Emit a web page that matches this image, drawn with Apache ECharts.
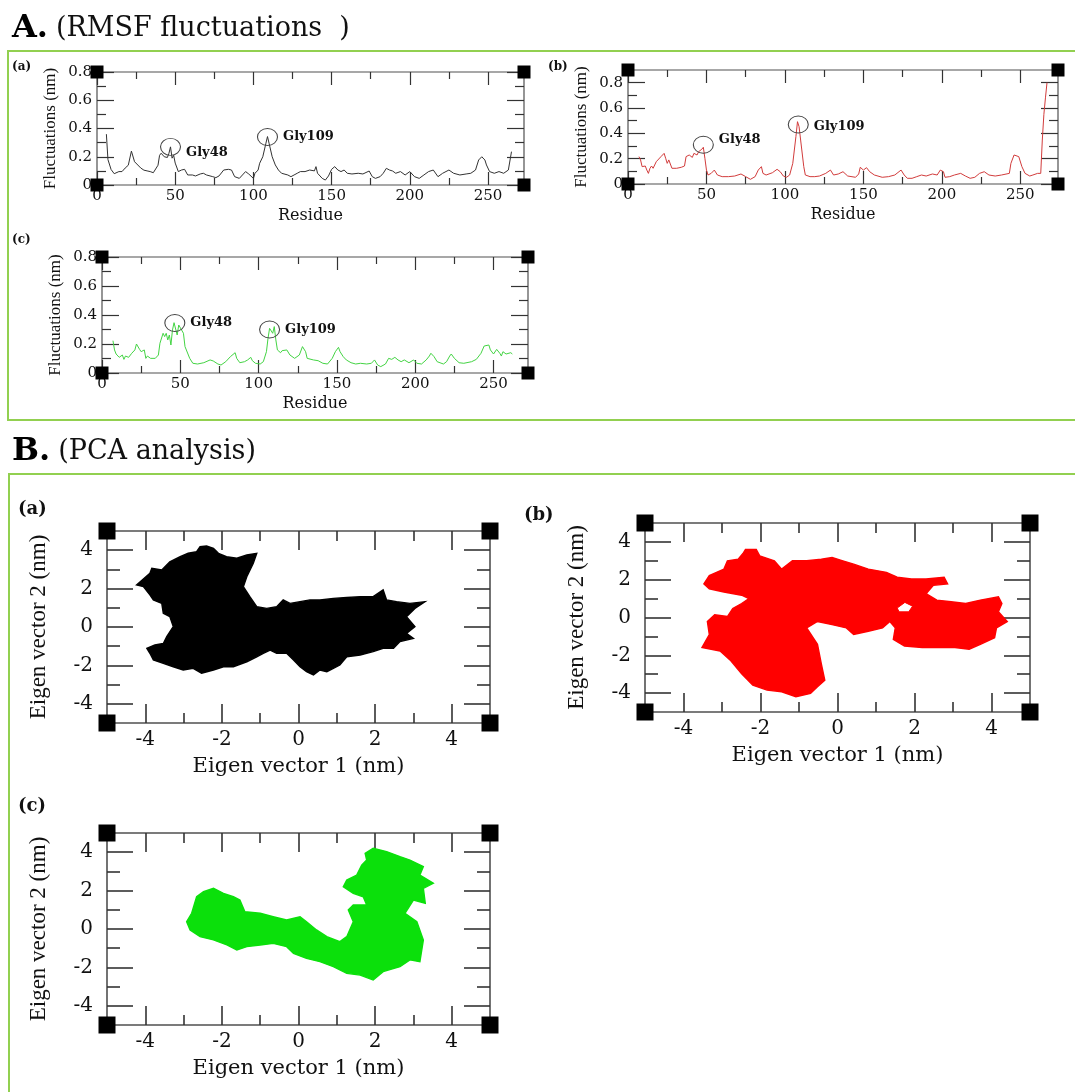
<!DOCTYPE html>
<html><head><meta charset="utf-8">
<script src="https://cdn.jsdelivr.net/npm/echarts@6/dist/echarts.min.js"></script>
<style>html,body{margin:0;padding:0;background:#fff}#c{width:1075px;height:1092px}</style>
</head><body><div id="c"></div>
<script>
// ---------------- DATA ----------------
// RMSF (a) black
const resA = [6,7,9,11,14,16,18,20,22,24,25,28,30,32,34,36,37,39,40,41,43,45,46,47,48,49,50,52,53,54,55,56,58,61,63,66,68,70,74,76,78,81,82,84,86,88,91,93,95,97,98,100,101,103,104,106,108,109,110,112,114,116,118,122,124,126,128,130,133,136,139,140,141,144,146,148,150,152,154,156,158,160,163,167,170,174,176,178,181,183,185,187,189,191,194,197,200,203,206,209,212,215,218,221,225,228,232,236,239,242,244,246,248,249,251,254,257,260,263,265];
const fluctA = [0.36,0.18,0.11,0.08,0.095,0.095,0.12,0.14,0.24,0.165,0.17,0.12,0.105,0.10,0.095,0.087,0.10,0.14,0.21,0.225,0.20,0.195,0.225,0.27,0.19,0.21,0.155,0.095,0.083,0.106,0.095,0.111,0.071,0.071,0.064,0.078,0.083,0.071,0.059,0.052,0.064,0.106,0.095,0.111,0.106,0.059,0.047,0.071,0.095,0.078,0.064,0.047,0.083,0.106,0.154,0.20,0.296,0.343,0.296,0.20,0.142,0.106,0.083,0.071,0.059,0.071,0.083,0.095,0.095,0.106,0.10,0.13,0.083,0.047,0.035,0.064,0.111,0.13,0.106,0.095,0.106,0.083,0.078,0.083,0.078,0.099,0.059,0.047,0.059,0.083,0.118,0.106,0.099,0.083,0.095,0.071,0.095,0.059,0.047,0.071,0.095,0.106,0.059,0.083,0.106,0.083,0.071,0.078,0.083,0.106,0.177,0.20,0.177,0.142,0.095,0.083,0.095,0.083,0.106,0.236];
// RMSF (b) red
const resB = [7,8,9,10,11,12,13,14,15,16,18,19,21,23,24,25,26,28,29,31,32,34,36,37,38,39,41,42,44,45,47,48,49,50,51,53,55,57,60,64,68,72,75,78,81,83,84,85,86,88,92,95,97,99,101,103,105,107,108,109,110,112,113,116,119,122,126,129,131,134,137,140,145,147,148,150,152,154,157,162,166,170,174,176,178,181,184,187,190,194,197,199,201,202,205,208,212,215,218,221,224,227,230,234,238,243,244,246,247,249,251,253,256,258,261,263,264,265,266,267];
const fluctB = [0.216,0.19,0.137,0.124,0.142,0.11,0.084,0.124,0.142,0.124,0.176,0.19,0.216,0.242,0.203,0.163,0.19,0.124,0.11,0.124,0.11,0.132,0.142,0.216,0.203,0.229,0.21,0.242,0.229,0.255,0.274,0.29,0.203,0.11,0.071,0.084,0.11,0.071,0.058,0.058,0.063,0.079,0.058,0.037,0.058,0.11,0.097,0.137,0.084,0.071,0.089,0.116,0.097,0.063,0.053,0.071,0.163,0.374,0.492,0.453,0.347,0.137,0.071,0.058,0.058,0.063,0.084,0.11,0.071,0.079,0.097,0.063,0.053,0.079,0.132,0.11,0.129,0.097,0.071,0.053,0.058,0.071,0.11,0.071,0.045,0.045,0.058,0.071,0.063,0.079,0.071,0.11,0.097,0.053,0.058,0.071,0.084,0.063,0.045,0.053,0.084,0.097,0.071,0.063,0.071,0.084,0.163,0.229,0.242,0.216,0.137,0.084,0.063,0.071,0.084,0.084,0.347,0.55,0.68,0.80];
// RMSF (c) green
const resC = [7,8,9,10,11,13,14,15,17,19,21,22,24,25,27,28,29,31,32,34,36,37,39,40,41,42,43,44,45,46,47,48,49,50,52,53,54,56,58,61,65,69,71,74,76,79,82,85,86,88,91,93,95,96,98,101,103,105,106,107,108,109,110,111,112,114,115,118,120,123,126,128,129,130,131,135,138,141,144,147,149,151,152,154,156,159,162,165,169,172,174,176,178,181,183,185,187,189,191,193,196,199,201,204,207,209,210,212,214,218,220,222,223,225,228,231,236,239,242,244,245,247,248,250,252,253,254,255,256,258,259,261,262];
const fluctC = [0.223,0.159,0.131,0.14,0.108,0.124,0.094,0.117,0.108,0.136,0.159,0.20,0.163,0.147,0.159,0.101,0.117,0.101,0.113,0.101,0.124,0.205,0.274,0.251,0.274,0.228,0.262,0.193,0.297,0.347,0.343,0.262,0.331,0.338,0.274,0.182,0.17,0.101,0.067,0.062,0.071,0.09,0.083,0.062,0.055,0.078,0.113,0.14,0.101,0.071,0.078,0.09,0.108,0.085,0.067,0.062,0.078,0.147,0.239,0.308,0.32,0.274,0.32,0.228,0.159,0.14,0.154,0.159,0.124,0.101,0.124,0.182,0.193,0.147,0.101,0.09,0.085,0.067,0.062,0.101,0.147,0.177,0.147,0.113,0.09,0.071,0.062,0.067,0.062,0.067,0.09,0.055,0.044,0.062,0.101,0.094,0.108,0.09,0.078,0.09,0.071,0.09,0.067,0.062,0.09,0.117,0.136,0.113,0.078,0.062,0.078,0.117,0.131,0.101,0.071,0.067,0.078,0.094,0.136,0.186,0.182,0.193,0.159,0.131,0.163,0.17,0.136,0.117,0.147,0.131,0.136,0.14,0.131];

// annotated residues
const glyNames = ['Gly48','Gly109'];
const glyResA = [47,109],   glyValA = [0.27,0.34];
const glyResB = [48,108.5], glyValB = [0.31,0.47];
const glyResC = [46.5,107], glyValC = [0.345,0.30];

// tick labels
const rmsfXTicks = [0,50,100,150,200,250];
const rmsfXMinor = [25,75,125,175,225];
const rmsfYTicks = [0,0.2,0.4,0.6,0.8];
const rmsfYMinor = [0.1,0.3,0.5,0.7];
const pcaTicks = [-4,-2,0,2,4];
const pcaMinor = [-3,-1,1,3];

// PCA projection cloud outlines (eigenvector 1, eigenvector 2)
const pcaAx = [-4.23,-3.88,-3.83,-3.57,-3.36,-3.09,-2.88,-2.66,-2.57,-2.40,-2.22,-2.09,-1.88,-1.61,-1.35,-1.09,-1.18,-1.35,-1.44,-1.27,-1.09,-0.83,-0.57,-0.40,-0.22,0.04,0.30,0.56,0.91,1.26,1.61,1.95,2.21,2.30,2.56,2.91,3.30,3.04,2.82,3.04,2.82,3.00,2.65,2.48,2.21,1.95,1.61,1.26,1.08,0.91,0.74,0.56,0.39,0.21,0.04,-0.13,-0.31,-0.57,-0.74,-0.92,-1.09,-1.35,-1.70,-1.96,-2.22,-2.53,-2.75,-3.01,-3.27,-3.53,-3.79,-3.88,-3.96,-3.75,-3.53,-3.44,-3.27,-3.36,-3.53,-3.57,-3.79,-3.88,-4.05];
const pcaAy = [2.19,2.80,3.06,2.97,3.40,3.66,3.84,3.92,4.18,4.22,4.10,3.84,3.66,3.58,3.75,3.84,3.32,2.62,2.10,1.58,1.06,0.97,1.06,1.41,1.23,1.32,1.41,1.41,1.49,1.54,1.58,1.58,1.93,1.41,1.32,1.23,1.32,0.97,0.54,0.02,-0.33,-0.59,-0.76,-1.11,-1.11,-1.28,-1.46,-1.55,-1.98,-2.15,-2.33,-2.24,-2.50,-2.33,-2.07,-1.72,-1.37,-1.37,-1.20,-1.37,-1.55,-1.81,-2.07,-2.07,-2.24,-2.41,-2.15,-2.24,-2.07,-1.89,-1.72,-1.37,-1.11,-0.94,-0.86,-0.50,0.02,0.54,0.71,1.23,1.41,1.67,2.10];
const pcaBx = [-3.47,-3.33,-2.95,-2.86,-2.58,-2.44,-2.39,-2.11,-2.02,-1.64,-1.45,-1.17,-0.80,-0.42,-0.14,0.14,0.42,0.80,1.27,1.55,1.92,2.30,2.77,2.86,2.49,2.30,2.58,2.95,3.33,3.71,4.18,4.27,4.18,4.41,4.13,4.08,3.71,3.42,3.05,2.67,2.20,1.74,1.45,1.50,1.36,1.17,0.80,0.42,0.23,-0.14,-0.52,-0.80,-0.52,-0.42,-0.33,-0.52,-0.70,-1.08,-1.45,-1.83,-2.20,-2.49,-2.77,-3.05,-3.52,-3.33,-3.38,-3.19,-2.86,-2.72,-2.49,-2.30,-2.49,-2.95,-3.33];
const pcaBy = [1.78,2.22,2.56,3.00,3.08,3.43,3.60,3.60,3.26,3.00,2.56,3.00,3.00,3.08,3.17,3.00,2.82,2.56,2.39,2.13,2.04,2.04,2.13,1.78,1.70,1.26,0.92,0.83,0.74,0.92,1.09,0.74,0.31,-0.21,-0.55,-1.07,-1.42,-1.68,-1.59,-1.59,-1.59,-1.51,-1.16,-0.55,-0.21,-0.55,-0.73,-0.90,-0.55,-0.38,-0.21,-0.55,-1.42,-2.46,-3.32,-3.66,-4.02,-4.19,-3.93,-3.84,-3.58,-2.98,-2.29,-1.77,-1.59,-0.90,-0.21,0.14,0.05,0.48,0.74,1.00,1.18,1.35,1.52];
const pcaBholeX = [1.55,1.75,1.95,1.85,1.60];
const pcaBholeY = [0.50,0.80,0.60,0.30,0.30];
const pcaCx = [-2.92,-2.79,-2.66,-2.48,-2.22,-1.96,-1.70,-1.53,-1.40,-1.00,-0.66,-0.31,0.04,0.21,0.47,0.74,1.08,1.26,1.43,1.30,1.43,1.78,1.69,1.43,1.17,1.26,1.52,1.65,1.78,1.74,1.95,2.30,2.65,2.91,3.26,3.17,3.52,3.26,3.31,3.00,2.78,3.09,3.26,3.17,2.91,2.65,2.21,1.95,1.61,1.26,0.91,0.56,0.21,-0.13,-0.31,-0.66,-1.00,-1.35,-1.61,-1.87,-2.22,-2.57,-2.83];
const pcaCy = [0.38,0.82,1.68,1.94,2.12,1.86,1.68,1.51,0.90,0.82,0.64,0.47,0.64,0.38,-0.05,-0.40,-0.66,-0.40,0.38,0.99,1.25,1.25,1.68,1.86,2.20,2.55,2.81,3.33,3.59,3.94,4.20,4.03,3.77,3.59,3.25,2.81,2.38,2.12,1.34,1.51,0.82,0.38,-0.57,-1.70,-1.61,-1.96,-2.22,-2.66,-2.40,-2.31,-1.96,-1.70,-1.53,-1.27,-0.92,-0.75,-0.83,-0.92,-1.09,-0.83,-0.57,-0.40,-0.05];

// ---------------- BUILD ----------------
const F_SERIF = "'DejaVu Serif', serif";
const F_TIMES = "'Liberation Serif', 'Times New Roman', serif";
const grids = [], xAxes = [], yAxes = [], series = [];

function addPanel(p) {
  const gi = grids.length;
  grids.push({left:p.left, top:p.top, width:p.width, height:p.height, show:true,
    borderColor:'#505050', borderWidth:p.frameW, backgroundColor:'rgba(0,0,0,0)', containLabel:false});
  const base = gi * 4;
  const tickStyle = {color:'#333', width:p.tickW};
  function mk(kind, pos, vals, len, withLabel) {
    const isX = kind === 'x';
    const ax = {gridIndex:gi, type:'value', position:pos,
      min: isX ? p.xMin : p.yMin, max: isX ? p.xMax : p.yMax,
      axisLine:{show:false, onZero:false}, splitLine:{show:false}, minorTick:{show:false},
      axisTick:{show:true, inside:true, length:len, customValues:vals, lineStyle:tickStyle},
      axisLabel: withLabel ? {show:true, customValues:vals, margin: isX ? p.xMargin : p.yMargin,
        fontFamily:F_SERIF, fontSize:p.tickFont, color:'#111'} : {show:false},
      axisPointer:{show:false}, silent:true};
    if (withLabel) {
      ax.name = isX ? p.xName : p.yName;
      ax.nameLocation = 'middle';
      ax.nameGap = isX ? p.xNameGap : p.yNameGap;
      ax.nameTextStyle = isX ? {fontFamily:F_SERIF, fontSize:p.xNameFont, color:'#111'}
                             : {fontFamily:F_TIMES, fontSize:p.yNameFont, color:'#111'};
    }
    return ax;
  }
  xAxes.push(mk('x','bottom',p.xMajor,p.xLen[0],true), mk('x','bottom',p.xMinorV,p.xLen[1],false),
             mk('x','top',p.xMajor,p.xLen[0],false),   mk('x','top',p.xMinorV,p.xLen[1],false));
  yAxes.push(mk('y','left',p.yMajor,p.yLen[0],true),   mk('y','left',p.yMinorV,p.yLen[1],false),
             mk('y','right',p.yMajor,p.yLen[0],false), mk('y','right',p.yMinorV,p.yLen[1],false));
  // xmgrace-style black corner squares
  series.push({type:'scatter', xAxisIndex:base, yAxisIndex:base, clip:false, silent:true, z:1,
    symbol:'rect', symbolSize:p.sq, itemStyle:{color:'#000', opacity:1},
    data:[[p.xMin,p.yMin],[p.xMax,p.yMin],[p.xMin,p.yMax],[p.xMax,p.yMax]]});
  return base;
}

function rmsfPanel(geo, xMax, yMax, res, vals, color, gRes, gVal, gOff) {
  const base = addPanel(Object.assign({
    xMin:0, xMax:xMax, yMin:0, yMax:yMax,
    xMajor:rmsfXTicks, xMinorV:rmsfXMinor, yMajor:rmsfYTicks, yMinorV:rmsfYMinor,
    xLen:[13,7], yLen:[17,9], frameW:1.2, tickW:1.2, sq:13, tickFont:15,
    xMargin:4, yMargin:5, xName:'Residue', yName:'Fluctuations (nm)',
    xNameGap:23, yNameGap:38, xNameFont:16, yNameFont:17}, geo));
  series.push({type:'line', xAxisIndex:base, yAxisIndex:base, showSymbol:false, symbol:'none',
    silent:true, lineStyle:{color:color, width:1}, z:2,
    data: res.map((r,i)=>[r, vals[i]])});
  series.push({type:'scatter', xAxisIndex:base, yAxisIndex:base, silent:true, z:3, clip:false,
    symbol:'circle', symbolSize:[20,17],
    itemStyle:{color:'rgba(0,0,0,0)', borderColor:'#444', borderWidth:1, opacity:1},
    label:{show:true, position:'right', distance:5, formatter:'{b}', fontFamily:F_SERIF,
      fontWeight:'bold', fontSize:13, color:'#111'},
    data: glyNames.map((n,i)=>({name:n, value:[gRes[i], gVal[i]], label:{offset:gOff[i]}}))});
}

function pcaPanel(geo, xs, ys, color, holeX, holeY) {
  const base = addPanel(Object.assign({
    xMin:-5, xMax:5, yMin:-5, yMax:5,
    xMajor:pcaTicks, xMinorV:pcaMinor, yMajor:pcaTicks, yMinorV:pcaMinor,
    xLen:[19,10], yLen:[26,13], frameW:1.6, tickW:1.6, sq:17, tickFont:20,
    xMargin:7, yMargin:14, xName:'Eigen vector 1 (nm)', yName:'Eigen vector 2 (nm)',
    xNameGap:33, yNameGap:57, xNameFont:21, yNameFont:23}, geo));
  const pts = xs.map((x,i)=>[x, ys[i]]);
  series.push({type:'custom', xAxisIndex:base, yAxisIndex:base, silent:true, z:2, clip:true,
    data: pts,
    renderItem: function(params, api) {
      if (params.dataIndex !== 0) return null;
      const children = [{type:'polygon', shape:{points: pts.map(p=>api.coord(p))},
        style:{fill:color, stroke:color, lineWidth:1.4, lineJoin:'miter'}}];
      if (holeX) {
        children.push({type:'polygon', shape:{points: holeX.map((x,i)=>api.coord([x, holeY[i]]))},
          style:{fill:'#fff', stroke:color, lineWidth:1}});
      }
      return {type:'group', children:children};
    }});
}

rmsfPanel({left:97, top:72, width:427, height:113}, 273, 0.8, resA, fluctA, '#333333',
          glyResA, glyValA, [[0,6],[0,0]]);
rmsfPanel({left:628, top:70, width:430, height:114}, 274, 0.9, resB, fluctB, '#d23c3c',
          glyResB, glyValB, [[0,-5],[0,2]]);
rmsfPanel({left:102, top:257, width:426, height:116}, 272, 0.8, resC, fluctC, '#44d444',
          glyResC, glyValC, [[0,0],[0,0]]);
pcaPanel({left:107, top:531, width:383, height:192}, pcaAx, pcaAy, '#000000');
pcaPanel({left:645, top:523, width:385, height:189}, pcaBx, pcaBy, '#ff0000', pcaBholeX, pcaBholeY);
pcaPanel({left:107, top:833, width:383, height:192}, pcaCx, pcaCy, '#0be00b');

const richHead = {
  b:{fontFamily:F_SERIF, fontWeight:'bold', fontSize:32, color:'#000'},
  n:{fontFamily:F_SERIF, fontWeight:'normal', fontSize:27, color:'#111', padding:[0,0,0,8]}
};
function lab(text, left, top, size) {
  return {text:text, left:left, top:top, padding:0,
    textStyle:{fontFamily:F_SERIF, fontWeight:'bold', fontSize:size, color:'#111'}};
}

const option = {
  animation:false,
  backgroundColor:'#ffffff',
  title:[
    {text:'{b|A.}{n|(RMSF fluctuations  )}', left:12, top:13, padding:0,
     textStyle:{fontWeight:'normal', rich:richHead}},
    {text:'{b|B.}{n|(PCA analysis)}', left:12, top:436, padding:0,
     textStyle:{fontWeight:'normal', rich:richHead}},
    lab('(a)', 12, 61, 12), lab('(b)', 548, 61, 12), lab('(c)', 12, 234, 12),
    lab('(a)', 18, 500, 18), lab('(b)', 524, 506, 18), lab('(c)', 18, 797, 18)
  ],
  graphic:[
    {type:'rect', silent:true, shape:{x:8, y:51, width:1100, height:369},
     style:{fill:'none', stroke:'#92D050', lineWidth:2}},
    {type:'rect', silent:true, shape:{x:9, y:474, width:1100, height:700},
     style:{fill:'none', stroke:'#92D050', lineWidth:2}}
  ],
  grid:grids, xAxis:xAxes, yAxis:yAxes, series:series
};

const chart = echarts.init(document.getElementById('c'), null, {renderer:'canvas', width:1075, height:1092});
chart.setOption(option);
</script>
</body></html>
